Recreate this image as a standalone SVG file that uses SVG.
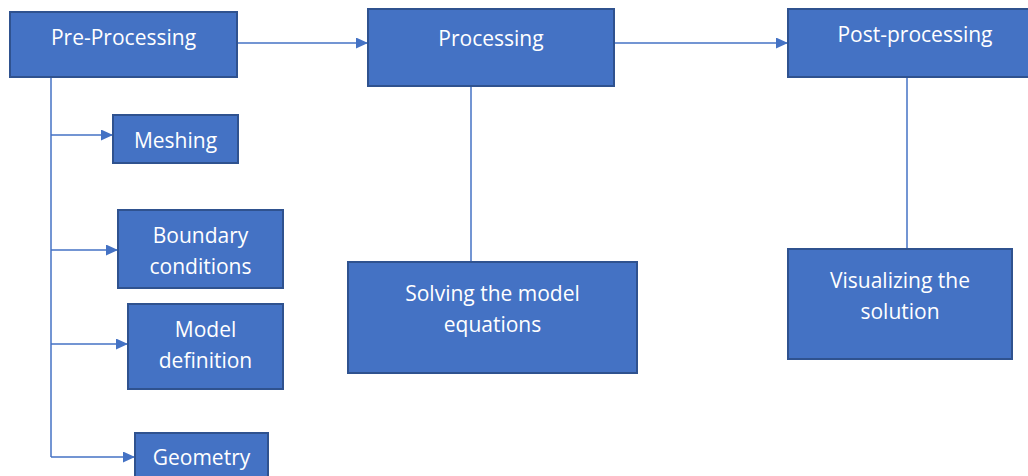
<svg xmlns="http://www.w3.org/2000/svg" width="1028" height="476" viewBox="0 0 1028 476">
  <style>
    .box { fill: #4472C4; stroke: #2F528F; stroke-width: 2; }
    .lbl { fill: #FFFFFF; font-family: "Open Sans", "Liberation Sans", sans-serif; font-size: 21px; text-anchor: middle; }
    .wire { fill: none; stroke: #4472C4; stroke-width: 1.5; }
  </style>
  <defs>
    <marker id="tip" viewBox="0 0 12 11" refX="12" refY="5.5" markerWidth="12" markerHeight="11" markerUnits="userSpaceOnUse" orient="auto">
      <path d="M0,0 L12,5.5 L0,11 Z" fill="#4472C4"/>
    </marker>
  </defs>
  <rect width="1028" height="476" fill="#FFFFFF"/>

  <!-- connectors -->
  <g id="connectors">
    <path class="wire" d="M237,43 H368" marker-end="url(#tip)"/>
    <path class="wire" d="M614,43 H788" marker-end="url(#tip)"/>
    <path class="wire" d="M471,86 V262"/>
    <path class="wire" d="M907,77 V249"/>
    <path class="wire" d="M51,77 V457"/>
    <path class="wire" d="M51,135 H113" marker-end="url(#tip)"/>
    <path class="wire" d="M51,250 H118" marker-end="url(#tip)"/>
    <path class="wire" d="M51,344 H128" marker-end="url(#tip)"/>
    <path class="wire" d="M51,457 H135" marker-end="url(#tip)"/>
  </g>

  <!-- main stages -->
  <g id="pre-processing">
    <rect class="box" x="10" y="12" width="227" height="65"/>
    <text class="lbl" x="123.5" y="45">Pre-Processing</text>
  </g>
  <g id="processing">
    <rect class="box" x="368" y="9" width="246" height="77"/>
    <text class="lbl" x="491" y="46">Processing</text>
  </g>
  <g id="post-processing">
    <rect class="box" x="788" y="9" width="242" height="68"/>
    <text class="lbl" x="915" y="42">Post-processing</text>
  </g>

  <!-- pre-processing steps -->
  <g id="meshing">
    <rect class="box" x="113" y="115" width="125" height="48"/>
    <text class="lbl" x="175.5" y="148">Meshing</text>
  </g>
  <g id="boundary-conditions">
    <rect class="box" x="118" y="210" width="165" height="78"/>
    <text class="lbl" x="200.5" y="243">Boundary</text>
    <text class="lbl" x="200.5" y="274">conditions</text>
  </g>
  <g id="model-definition">
    <rect class="box" x="128" y="304" width="155" height="85"/>
    <text class="lbl" x="205.5" y="337">Model</text>
    <text class="lbl" x="205.5" y="368">definition</text>
  </g>
  <g id="geometry">
    <rect class="box" x="135" y="433" width="133" height="50"/>
    <text class="lbl" x="201.5" y="465">Geometry</text>
  </g>

  <!-- processing step -->
  <g id="solving">
    <rect class="box" x="348" y="262" width="289" height="111"/>
    <text class="lbl" x="492.5" y="301">Solving the model</text>
    <text class="lbl" x="492.5" y="332">equations</text>
  </g>

  <!-- post-processing step -->
  <g id="visualizing">
    <rect class="box" x="788" y="249" width="224" height="110"/>
    <text class="lbl" x="900" y="288">Visualizing the</text>
    <text class="lbl" x="900" y="319">solution</text>
  </g>
</svg>
